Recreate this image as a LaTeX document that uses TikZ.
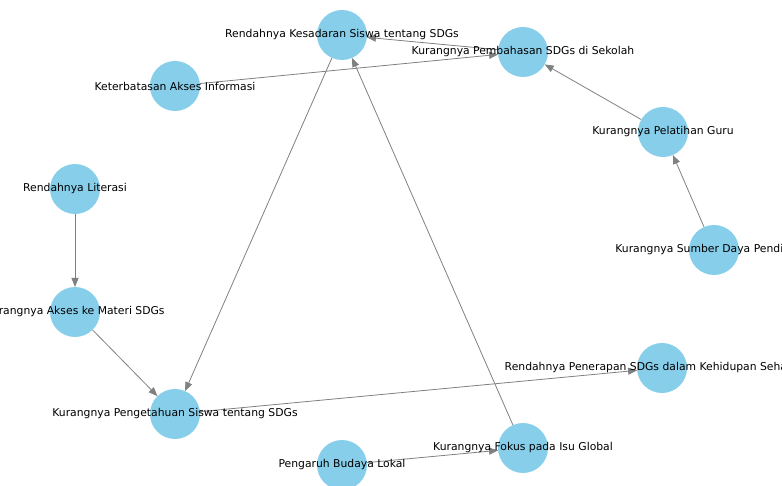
\documentclass[tikz,border=0pt]{standalone}
\usepackage{fontspec}
\setmainfont{DejaVu Sans}
\usetikzlibrary{arrows.meta}
\pgfdeclarelayer{bg}
\pgfsetlayers{bg,main}
\definecolor{skyblue}{HTML}{87CEEB}
\definecolor{edgegray}{HTML}{808080}
\tikzset{
  vertex/.style={circle,fill=skyblue,draw=none,minimum size=50pt,inner sep=0pt,outer sep=0pt},
  lbl/.style={font=\fontsize{10.8}{12}\selectfont,text=black,inner sep=0pt},
  edge/.style={draw=edgegray,line width=0.8pt,-{Triangle[length=9pt,width=7pt]}}
}
\newcommand{\vx}[3]{\node[vertex,label={[lbl]center:#3}] (#1) at #2 {};}
\begin{document}
\begin{tikzpicture}[x=1pt,y=1pt]
\useasboundingbox (0,0) rectangle (782,485);
\clip (0,0) rectangle (782,485);
\vx{rk}{(342,450)}{Rendahnya Kesadaran Siswa tentang SDGs}
\vx{kp}{(523,433)}{Kurangnya Pembahasan SDGs di Sekolah}
\vx{kai}{(175,399)}{Keterbatasan Akses Informasi}
\vx{kpg}{(663,353)}{Kurangnya Pelatihan Guru}
\vx{rl}{(75,296)}{Rendahnya Literasi}
\vx{ksd}{(714,235)}{Kurangnya Sumber Daya Pendidikan}
\vx{kam}{(75,173)}{Kurangnya Akses ke Materi SDGs}
\vx{kps}{(175,71)}{Kurangnya Pengetahuan Siswa tentang SDGs}
\vx{rp}{(662,117)}{Rendahnya Penerapan SDGs dalam Kehidupan Sehari-hari}
\vx{pbl}{(342,20)}{Pengaruh Budaya Lokal}
\vx{kf}{(523,37)}{Kurangnya Fokus pada Isu Global}
\begin{pgfonlayer}{bg}
\draw[edge] (kp) -- (rk);
\draw[edge] (kai) -- (kp);
\draw[edge] (kpg) -- (kp);
\draw[edge] (ksd) -- (kpg);
\draw[edge] (rl) -- (kam);
\draw[edge] (kam) -- (kps);
\draw[edge] (rk) -- (kps);
\draw[edge] (kf) -- (rk);
\draw[edge] (kps) -- (rp);
\draw[edge] (pbl) -- (kf);
\end{pgfonlayer}
\end{tikzpicture}
\end{document}
